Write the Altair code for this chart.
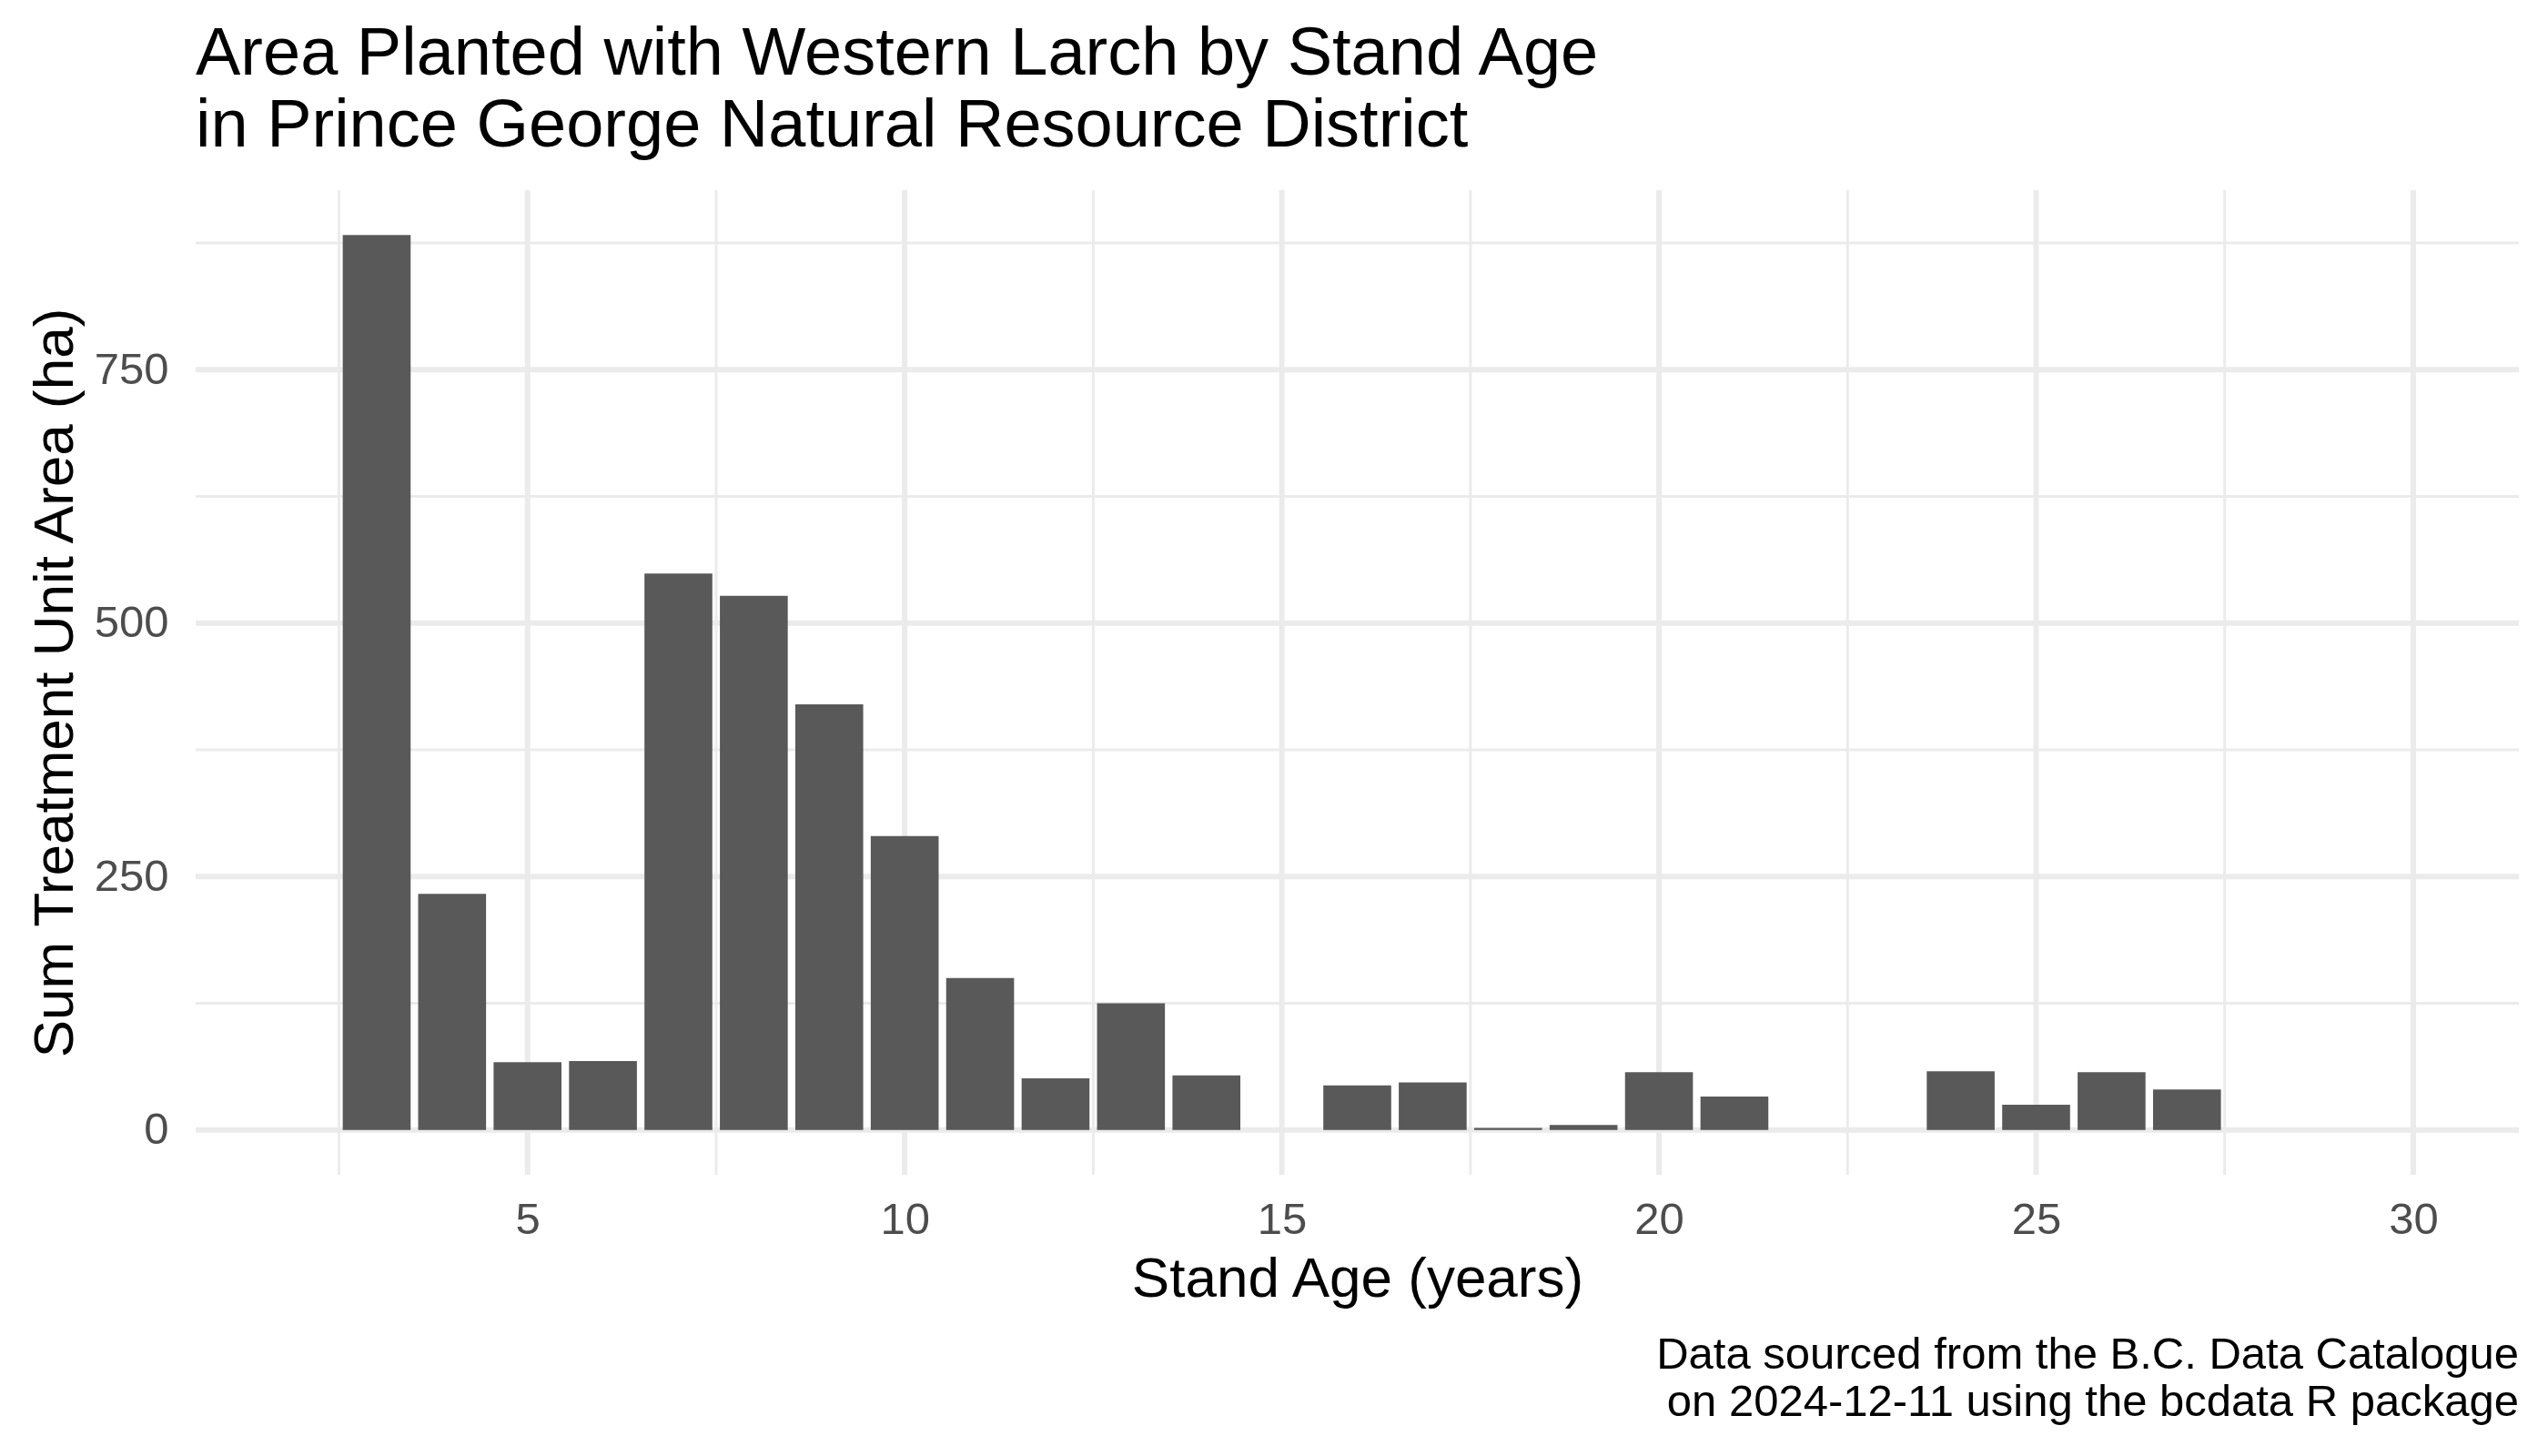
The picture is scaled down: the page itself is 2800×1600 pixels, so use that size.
import altair as alt
import pandas as pd

# ---- data ----
ages = [3, 4, 5, 6, 7, 8, 9, 10, 11, 12, 13, 14, 16, 17, 18, 19, 20, 21, 24, 25, 26, 27]
areas = [883, 233, 67, 68, 549, 527, 420, 290, 150, 51, 125, 54, 44, 47, 2, 5, 57, 33, 58, 25, 57, 40]

x_major = [5, 10, 15, 20, 25, 30]
x_minor = [2.5, 7.5, 12.5, 17.5, 22.5, 27.5]
y_major = [0, 250, 500, 750]
y_minor = [125, 375, 625, 875]

title_lines = ["Area Planted with Western Larch by Stand Age",
               "in Prince George Natural Resource District"]
x_title = "Stand Age (years)"
y_title = "Sum Treatment Unit Area (ha)"
caption_lines = ["Data sourced from the B.C. Data Catalogue",
                 "on 2024-12-11 using the bcdata R package"]

# ---- layout constants ----
W, H = 2553, 1082
FONT = "Liberation Sans"
GRID = "#EBEBEB"
X_DOMAIN = [0.6, 31.4]
Y_DOMAIN = [-44.15, 927.15]

bars_df = pd.DataFrame({"age": ages, "area": areas})

xs = alt.Scale(domain=X_DOMAIN, nice=False, zero=False)
ys = alt.Scale(domain=Y_DOMAIN, nice=False, zero=False)

x_axis = alt.Axis(values=x_major, grid=False, domain=False, ticks=False, tickSize=0,
                  labelFont=FONT, labelFontSize=49, labelColor="#4D4D4D",
                  labelBaseline="alphabetic", labelPadding=64,
                  title=x_title, titleFont=FONT, titleFontSize=62, titleColor="black",
                  titleFontWeight="normal", titleBaseline="alphabetic", titleY=133)
y_axis = alt.Axis(values=y_major, grid=False, domain=False, ticks=False, tickSize=0,
                  labelFont=FONT, labelFontSize=49, labelColor="#4D4D4D",
                  labelPadding=30,
                  title=y_title, titleFont=FONT, titleFontSize=62, titleColor="black",
                  titleFontWeight="normal", titleBaseline="alphabetic",
                  titleX=-136, titleY=H / 2, titleAngle=270)

minor_y = alt.Chart(pd.DataFrame({"v": y_minor})).mark_rule(
    color=GRID, strokeWidth=3).encode(y=alt.Y("v:Q", scale=ys, axis=y_axis, title=y_title))
major_y = alt.Chart(pd.DataFrame({"v": y_major})).mark_rule(
    color=GRID, strokeWidth=6).encode(y=alt.Y("v:Q", scale=ys, axis=y_axis, title=y_title))
minor_x = alt.Chart(pd.DataFrame({"v": x_minor})).mark_rule(
    color=GRID, strokeWidth=3).encode(x=alt.X("v:Q", scale=xs, axis=x_axis, title=x_title))
major_x = alt.Chart(pd.DataFrame({"v": x_major})).mark_rule(
    color=GRID, strokeWidth=6).encode(x=alt.X("v:Q", scale=xs, axis=x_axis, title=x_title))

bars = alt.Chart(bars_df).transform_calculate(
    x0="datum.age - 0.45", x1="datum.age + 0.45"
).mark_bar(color="#595959", stroke=None).encode(
    x=alt.X("x0:Q", scale=xs, axis=x_axis, title=x_title),
    x2="x1:Q",
    y=alt.Y("area:Q", scale=ys, axis=y_axis, title=y_title),
    y2=alt.datum(0),
)

caption = alt.Chart(pd.DataFrame({"t": ["\n".join(caption_lines)]})).mark_text(
    font=FONT, fontSize=49, color="black", align="right", baseline="alphabetic",
    lineBreak="\n", lineHeight=52
).encode(text="t:N", x=alt.value(W), y=alt.value(1295))

chart = alt.layer(minor_y, major_y, minor_x, major_x, bars, caption).properties(
    width=W, height=H,
    autosize=alt.AutoSizeParams(type="none"),
    padding={"left": 207, "top": 201, "right": 24, "bottom": 300},
    title=alt.TitleParams(text=title_lines, anchor="start", frame="group",
                          font=FONT, fontSize=74, fontWeight="normal", color="black",
                          lineHeight=79, baseline="bottom", offset=31, dy=76),
    background="white",
).configure_view(stroke=None)

chart.save("out.html", embed_options={"renderer": "svg", "actions": False})
